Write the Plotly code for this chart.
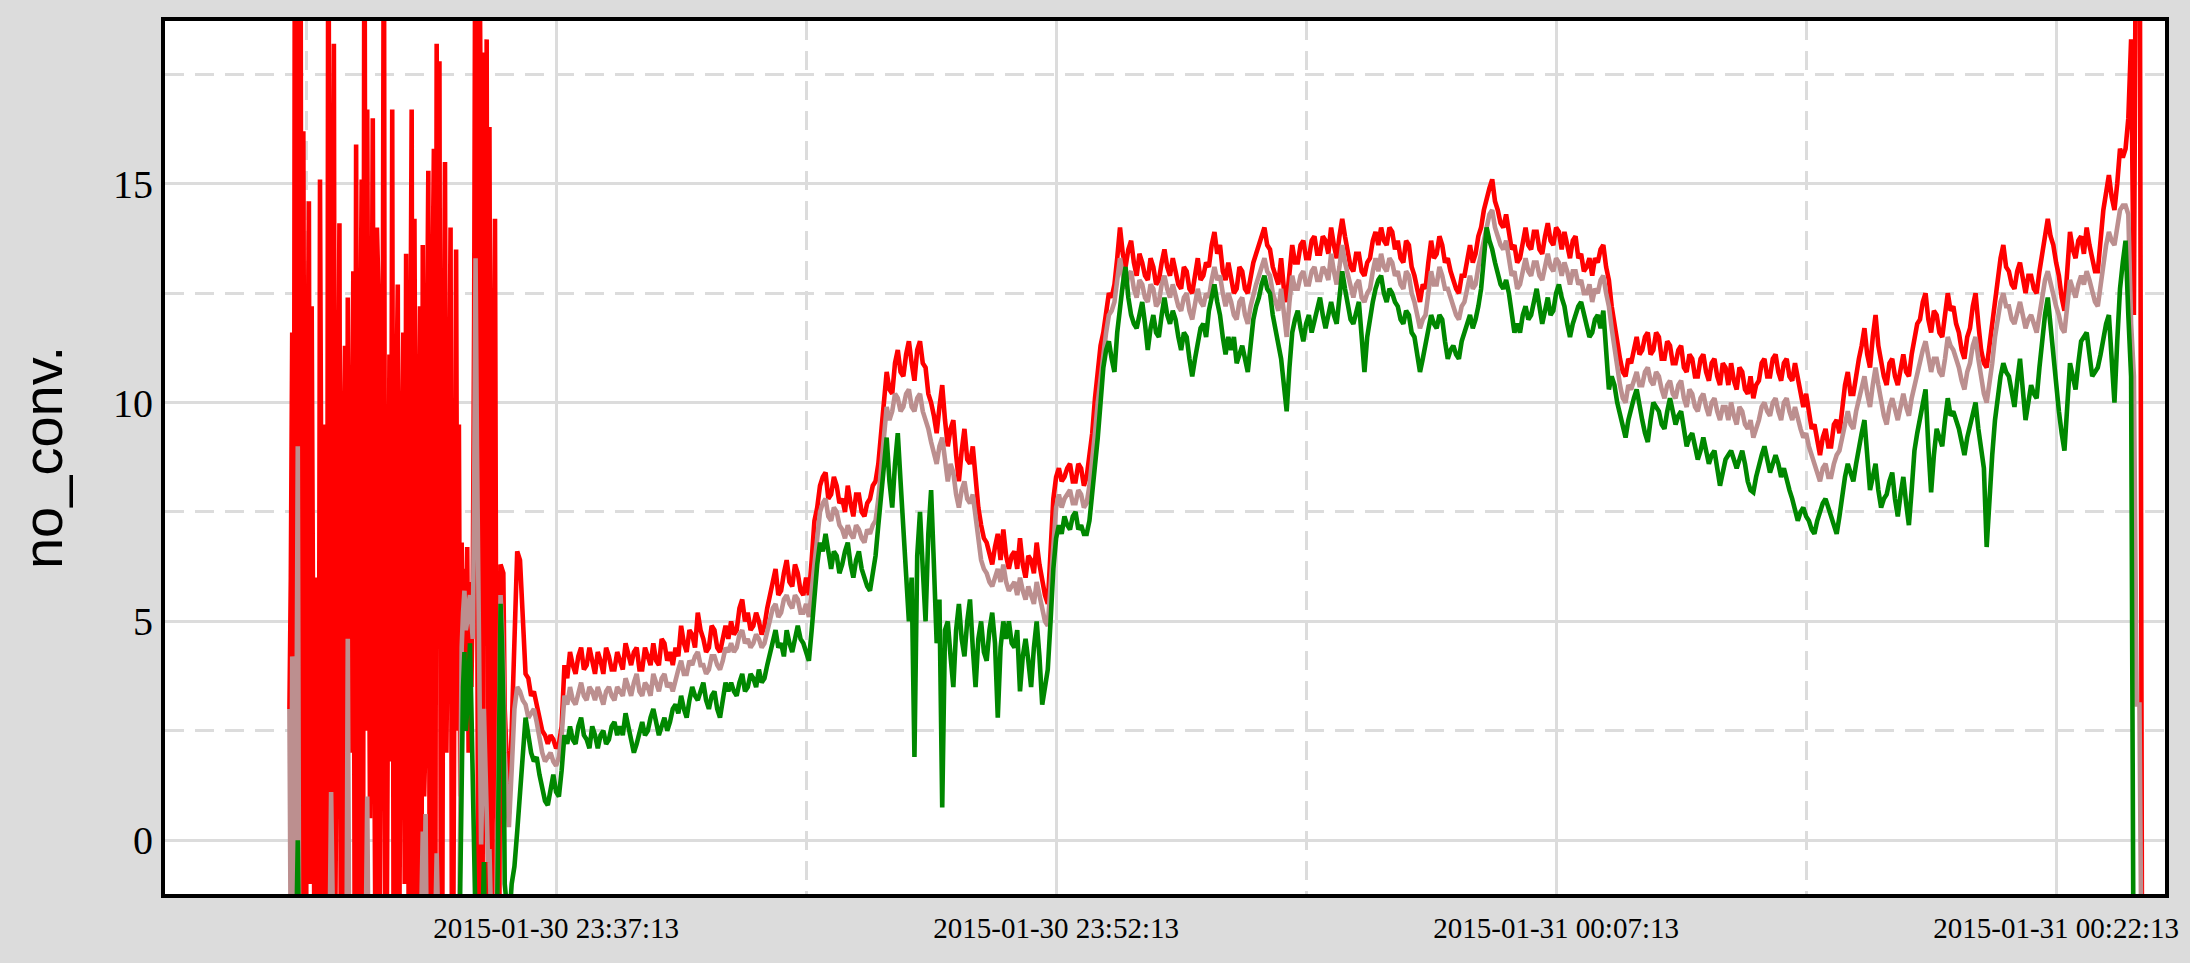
import pandas as pd
import plotly.graph_objects as go

# ---------------------------------------------------------------------------
# Sampling of the series: 2.5 s steps during the noisy start, 5 s afterwards
# ---------------------------------------------------------------------------
START_A = "2015-01-30 23:29:13"
STEP_A = "2500ms"
START_B = "2015-01-30 23:35:48"
STEP_B = "5s"

# upper series (red) - noisy start
red_start = [
    3.0, 6.0, 11.6, -2.0, 25.0, 8.0, -3.0, 19.0, 22.0, -3.0,
    16.2, 3.0, -2.6, 10.0, 14.6, -1.0, 12.2, 5.0, -2.8, 1.5,
    6.0, -3.0, 15.1, 7.0, -2.5, 2.1, 9.5, -3.0, 24.0, 8.5,
    -3.2, 12.0, 18.2, -2.0, 4.0, 11.0, 14.1, -3.0, -2.9, 9.0,
    11.3, -2.5, 12.4, 6.0, 2.0, 8.0, 13.0, -3.0, 15.9, 4.0,
    -3.0, 10.5, 15.1, -2.0, 24.0, 2.5, 16.7, 7.5, 0.5, 9.0,
    16.5, 3.0, -3.1, 14.0, 12.7, -2.0, 3.5, 8.0, 23.0, -3.0,
    -2.7, 6.5, 11.1, 1.8, 16.7, -3.0, -2.0, 10.0, 12.7, -2.8,
    5.0, 9.0, 11.6, -1.0, 13.4, 4.0, -3.0, 10.2, 16.7, -3.0,
    14.2, 6.0, -1.5, 8.5, 12.2, -3.0, 13.6, 1.0, 2.5, 11.0,
    15.3, -2.5, -3.0, 12.5, 15.8, -3.0, 18.2, 4.5, 17.8, -2.0,
    -3.0, 10.0, 15.5, 2.0, 4.5, 9.0, 14.0, -3.0, -2.0, 9.0,
    13.5, 2.5, 9.5, 1.0, 6.8, 3.0, 6.2, 4.5, 6.7, 2.0,
    5.9, 3.5, 5.7, 12.0, 24.0, 9.0, -3.0, 20.0, 15.0, -3.0,
    18.0, 5.0, 18.3, -2.0, 16.3, 4.0, -3.0, 10.0, 14.2, 2.0,
    -2.5, -3.0, 6.3, 6.2, 6.1, 3.0,
]
# middle series (rosy brown) - noisy start
mid_start = [
    3.0, -3.0, 4.2, -2.5, -3.0, 2.0, 9.0, -3.0, -3.4, -3.0,
    -2.8, -3.2, -3.1, -2.9, -3.5, -3.0, -2.9, -3.3, -3.3, -3.1,
    -3.0, -3.2, -3.6, -3.0, -2.7, -3.1, -3.2, -3.4, -3.0, -2.0,
    1.1, -3.0, -3.4, -3.1, -2.9, -3.0, -3.1, -3.2, -3.3, -3.0,
    -3.0, -3.3, 4.6, -2.6, -2.8, -3.1, -3.3, -3.0, -3.0, -3.2,
    -3.5, -3.0, -2.9, -3.3, -3.1, -2.0, 1.0, -3.0, -3.2, -3.1,
    -3.0, -3.2, -3.4, -3.0, -2.8, -3.1, -3.1, -3.3, -3.5, -3.0,
    -3.0, -3.2, -2.9, -3.1, -3.3, -3.0, -3.1, -3.2, -3.4, -3.0,
    -2.9, -3.1, -3.2, -3.0, -3.0, -3.3, -3.5, -3.1, -2.8, -3.0,
    -3.1, -3.2, -3.3, -3.0, -2.9, -1.5, 0.2, -2.0, 0.6, -3.0,
    -3.2, -3.1, -3.0, -3.2, -2.8, -2.0, -0.3, -3.0, -3.4, -3.1,
    -3.1, -3.0, -2.9, -3.2, -3.3, -3.0, -3.0, -3.1, -3.2, -2.0,
    -2.9, -3.0, -3.1, 1.0, 4.4, 5.2, 5.7, 4.8, 5.0, 5.4,
    5.6, 5.0, 4.6, 8.0, 13.3, 9.0, 6.0, 2.0, -0.1, 1.5,
    3.0, 1.8, 0.5, -0.5, -0.2, -3.0, -3.0, -3.1, -3.2, -2.0,
    0.1, 3.0, 5.6, 5.0, 4.0, 2.0,
]
# lower series (green) - noisy start
low_start = [
    -3.5, -3.4, -3.2, -3.6, -3.8, -2.0, 0.0, -3.0, -3.4, -3.5,
    -3.6, -3.3, -3.3, -3.4, -3.9, -3.6, -3.5, -3.3, -3.2, -3.5,
    -3.6, -3.4, -3.4, -3.7, -3.8, -3.5, -3.3, -3.6, -3.5, -3.4,
    -3.7, -3.3, -3.2, -3.5, -3.6, -3.4, -3.4, -3.7, -3.8, -3.5,
    -3.3, -3.6, -3.5, -3.4, -3.7, -3.3, -3.4, -3.5, -3.6, -3.4,
    -3.2, -3.7, -3.8, -3.5, -3.5, -3.3, -3.3, -3.6, -3.6, -3.4,
    -3.4, -3.5, -3.7, -3.3, -3.5, -3.6, -3.3, -3.4, -3.6, -3.5,
    -3.8, -3.3, -3.4, -3.6, -3.2, -3.4, -3.5, -3.7, -3.7, -3.5,
    -3.3, -3.4, -3.6, -3.5, -3.4, -3.6, -3.8, -3.3, -3.5, -3.4,
    -3.2, -3.6, -3.6, -3.5, -3.4, -3.3, -3.7, -3.5, -3.3, -3.6,
    -3.5, -3.4, -3.8, -3.5, -3.4, -3.3, -3.2, -3.6, -3.6, -3.4,
    -3.5, -3.7, -3.3, -3.5, -3.7, -3.4, -3.4, -3.6, -3.6, -3.3,
    -3.2, -3.5, -3.5, -1.0, 2.1, 3.5, 4.3, 2.5, 3.0, 4.0,
    4.5, 3.0, 1.2, -3.0, -3.4, -3.5, -3.6, -3.4, -3.3, -2.0,
    -0.5, -3.0, -3.5, -3.6, -3.7, -3.5, -3.4, -3.3, -3.6, -3.0,
    -0.5, 2.0, 5.4, 4.5, 3.0, -1.0,
]

# upper series (red) - main part
red_main = [
    0.6, 2.5, 4.8, 6.6, 6.4, 5.2, 3.8, 3.7, 3.3, 3.4, 3.1, 2.8, 2.5, 2.4, 2.2, 2.4, 2.3, 2.1, 2.2, 2.6,
    4.0, 3.7, 4.3, 4.0, 3.8, 4.2, 4.4, 3.9, 4.0, 4.4, 4.1, 3.8, 4.3, 4.1, 3.8, 4.4, 4.2, 3.9, 3.9, 4.3,
    4.1, 3.9, 4.5, 4.2, 4.0, 4.3, 4.4, 3.9, 3.9, 4.4, 4.2, 4.0, 4.5, 4.1, 4.0, 4.6, 4.5, 4.1, 4.3, 4.0,
    4.4, 4.2, 4.9, 4.5, 4.3, 4.8, 4.7, 4.4, 5.2, 4.8, 4.6, 4.3, 4.4, 4.9, 4.8, 4.4, 4.3, 4.6, 4.9, 4.6,
    5.0, 4.7, 4.8, 5.3, 5.5, 5.0, 5.2, 4.8, 4.9, 5.2, 5.0, 4.7, 4.9, 5.3, 5.6, 6.0, 6.2, 5.6, 5.7, 6.1,
    6.4, 5.9, 5.8, 6.3, 6.1, 5.7, 5.6, 6.0, 5.6, 6.4, 7.3, 7.6, 8.1, 8.3, 8.4, 7.8, 7.9, 8.3, 8.1, 7.7,
    7.8, 7.5, 8.1, 7.7, 7.4, 7.9, 7.9, 7.5, 7.4, 7.7, 7.8, 8.1, 8.2, 8.6, 9.4, 10.0, 10.7, 10.3, 10.2, 10.9,
    11.2, 10.7, 10.6, 11.1, 11.4, 10.9, 10.5, 11.2, 11.4, 10.9, 10.8, 10.2, 10.0, 9.7, 9.3, 9.9, 10.4, 9.6, 9.0, 9.4,
    9.6, 8.8, 8.2, 8.9, 9.4, 8.7, 8.6, 9.0, 8.3, 7.6, 7.2, 6.9, 6.8, 6.5, 6.3, 6.7, 7.0, 6.4, 7.1, 6.5,
    6.2, 6.5, 6.6, 6.2, 6.9, 6.3, 6.0, 6.5, 6.4, 6.1, 6.8, 6.3, 5.9, 5.6, 5.4, 6.6, 7.8, 8.3, 8.5, 8.2,
    8.3, 8.5, 8.6, 8.2, 8.2, 8.6, 8.5, 8.1, 8.3, 8.8, 9.3, 10.1, 10.8, 11.3, 11.6, 12.1, 12.5, 12.4, 12.7, 13.3,
    14.0, 13.4, 13.1, 13.5, 13.7, 13.2, 12.9, 13.4, 13.2, 12.9, 12.8, 13.3, 13.1, 12.7, 12.8, 13.2, 13.5, 13.1, 12.9, 13.3,
    13.0, 12.7, 12.6, 13.1, 13.0, 12.6, 12.5, 12.9, 13.3, 12.8, 12.9, 13.2, 13.1, 13.6, 13.9, 13.4, 13.6, 13.0, 12.8, 13.2,
    12.9, 12.5, 12.6, 13.1, 13.0, 12.6, 12.5, 12.9, 13.2, 13.4, 13.6, 13.8, 14.0, 13.6, 13.5, 13.1, 12.9, 12.7, 13.3, 12.6,
    12.3, 13.1, 13.6, 13.2, 13.2, 13.6, 13.7, 13.3, 13.3, 13.7, 13.8, 13.4, 13.4, 13.8, 13.7, 13.4, 14.0, 13.6, 13.3, 13.8,
    14.2, 13.8, 13.5, 13.1, 13.0, 13.4, 13.4, 13.0, 12.9, 13.2, 13.3, 13.7, 13.9, 13.6, 14.0, 13.7, 13.6, 14.0, 13.9, 13.5,
    13.7, 13.3, 13.2, 13.7, 13.6, 13.1, 12.9, 12.6, 12.3, 12.7, 12.6, 13.2, 13.7, 13.3, 13.4, 13.8, 13.6, 13.2, 13.3, 13.0,
    12.8, 12.6, 12.5, 12.9, 12.9, 13.3, 13.6, 13.2, 13.4, 13.8, 14.0, 14.4, 14.7, 14.9, 15.1, 14.6, 14.4, 14.1, 14.0, 14.3,
    13.9, 13.5, 13.6, 13.2, 13.3, 13.7, 14.0, 13.6, 13.5, 13.9, 13.9, 13.5, 13.4, 13.8, 14.1, 13.7, 13.6, 14.0, 13.9, 13.5,
    13.9, 13.6, 13.3, 13.7, 13.8, 13.3, 13.4, 13.0, 13.1, 13.3, 12.9, 13.3, 13.2, 13.5, 13.6, 13.1, 12.8, 12.2, 11.7, 11.4,
    11.0, 10.7, 10.6, 11.0, 10.9, 11.2, 11.5, 11.1, 11.2, 11.5, 11.6, 11.1, 11.2, 11.6, 11.5, 11.0, 11.0, 11.4, 11.3, 10.9,
    10.9, 11.2, 11.3, 10.8, 10.7, 11.1, 11.0, 10.6, 10.6, 11.0, 11.1, 10.7, 10.5, 10.9, 11.0, 10.6, 10.4, 10.9, 10.8, 10.4,
    10.9, 10.5, 10.3, 10.8, 10.7, 10.3, 10.2, 10.6, 10.1, 10.4, 10.5, 10.9, 11.0, 10.6, 10.6, 11.0, 11.1, 10.7, 10.5, 10.9,
    11.0, 10.6, 10.5, 10.9, 10.6, 10.2, 9.9, 10.2, 9.7, 9.4, 9.5, 9.1, 8.8, 9.2, 9.4, 9.0, 9.0, 9.5, 9.6, 9.3,
    9.9, 10.4, 10.7, 10.2, 10.2, 10.7, 11.0, 11.3, 11.7, 11.1, 10.8, 11.5, 12.0, 11.3, 10.9, 10.6, 10.4, 10.9, 11.0, 10.6,
    10.4, 10.8, 11.1, 10.7, 10.6, 11.1, 11.4, 11.8, 11.9, 12.3, 12.5, 11.9, 11.6, 12.1, 12.0, 11.6, 11.5, 12.0, 12.5, 12.1,
    12.2, 11.8, 11.6, 11.2, 11.0, 11.5, 11.7, 12.2, 12.5, 11.8, 11.2, 10.9, 10.8, 11.3, 11.8, 12.4, 13.0, 13.3, 13.6, 13.1,
    13.0, 12.7, 12.6, 13.0, 13.2, 12.8, 12.5, 12.9, 12.9, 12.6, 12.5, 13.0, 13.4, 13.8, 14.2, 13.8, 13.6, 13.2, 12.9, 12.4,
    12.1, 13.0, 13.9, 13.5, 13.3, 13.7, 13.8, 13.4, 14.0, 13.6, 13.3, 13.0, 13.0, 13.7, 14.4, 14.8, 15.2, 14.7, 14.4, 15.0,
    15.8, 15.6, 15.8, 16.5, 18.3, 12.0, 25.0, 25.0, -5.0,
]
# middle series (rosy brown) - main part
mid_main = [
    0.3, 1.6, 3.0, 3.5, 3.4, 3.2, 3.1, 2.8, 2.9, 3.0, 2.7, 2.3, 2.0, 1.8, 1.9, 2.0, 1.8, 1.7, 1.9, 2.4,
    3.3, 3.1, 3.5, 3.2, 3.1, 3.4, 3.6, 3.3, 3.2, 3.5, 3.4, 3.2, 3.5, 3.3, 3.1, 3.4, 3.5, 3.3, 3.2, 3.5,
    3.4, 3.3, 3.7, 3.5, 3.3, 3.6, 3.8, 3.4, 3.3, 3.6, 3.5, 3.3, 3.8, 3.6, 3.4, 3.7, 3.8, 3.5, 3.6, 3.4,
    3.7, 3.9, 4.1, 3.8, 3.8, 4.1, 4.0, 4.2, 4.3, 4.0, 4.0, 3.8, 3.9, 4.2, 4.2, 4.0, 3.9, 4.1, 4.4, 4.3,
    4.5, 4.3, 4.4, 4.7, 4.8, 4.5, 4.6, 4.4, 4.5, 4.7, 4.6, 4.4, 4.5, 4.8, 5.0, 5.3, 5.4, 5.1, 5.2, 5.5,
    5.6, 5.4, 5.3, 5.6, 5.5, 5.2, 5.2, 5.4, 5.1, 5.7, 6.5, 7.0, 7.5, 7.7, 7.8, 7.4, 7.3, 7.6, 7.5, 7.2,
    7.1, 6.9, 7.2, 7.0, 6.9, 7.2, 7.1, 6.9, 6.8, 7.1, 7.0, 7.2, 7.3, 7.8, 8.5, 9.3, 9.9, 9.6, 9.8, 10.2,
    10.1, 9.8, 9.9, 10.2, 10.3, 9.9, 9.8, 10.1, 10.2, 9.8, 9.6, 9.4, 9.1, 8.8, 8.6, 9.0, 9.2, 8.7, 8.2, 8.6,
    8.4, 7.9, 7.6, 8.0, 8.2, 7.8, 7.7, 7.9, 7.4, 6.9, 6.4, 6.2, 6.1, 5.9, 5.8, 6.0, 6.2, 5.9, 6.3, 5.9,
    5.7, 5.8, 5.9, 5.6, 6.0, 5.7, 5.5, 5.8, 5.6, 5.4, 5.9, 5.6, 5.2, 5.0, 4.9, 5.9, 7.0, 7.6, 7.9, 7.6,
    7.8, 7.9, 8.0, 7.7, 7.7, 8.0, 7.9, 7.6, 7.7, 8.1, 8.6, 9.3, 10.0, 10.6, 11.0, 11.6, 12.0, 12.1, 12.3, 12.8,
    13.3, 12.9, 12.6, 12.9, 13.0, 12.6, 12.4, 12.8, 12.7, 12.4, 12.3, 12.7, 12.6, 12.2, 12.3, 12.7, 12.9, 12.6, 12.4, 12.7,
    12.4, 12.2, 12.1, 12.4, 12.5, 12.1, 11.9, 12.3, 12.6, 12.3, 12.2, 12.5, 12.4, 12.8, 13.1, 12.8, 12.9, 12.5, 12.2, 12.5,
    12.3, 12.0, 11.9, 12.3, 12.4, 12.0, 11.8, 12.2, 12.5, 12.7, 12.9, 13.1, 13.3, 13.0, 12.9, 12.5, 12.3, 12.1, 12.6, 12.0,
    11.5, 12.3, 12.9, 12.6, 12.6, 12.9, 13.0, 12.7, 12.7, 13.0, 13.1, 12.8, 12.8, 13.1, 13.0, 12.8, 13.4, 13.0, 12.7, 13.1,
    13.6, 13.2, 12.9, 12.6, 12.4, 12.7, 12.8, 12.4, 12.3, 12.5, 12.6, 13.0, 13.3, 13.0, 13.4, 13.1, 13.0, 13.3, 13.2, 12.9,
    13.0, 12.7, 12.6, 13.0, 12.9, 12.5, 12.3, 12.0, 11.7, 11.9, 12.0, 12.5, 13.0, 12.7, 12.7, 13.1, 12.9, 12.6, 12.6, 12.4,
    12.2, 12.0, 11.9, 12.2, 12.3, 12.6, 12.9, 12.6, 12.7, 13.1, 13.4, 13.8, 14.1, 14.3, 14.4, 14.0, 13.8, 13.6, 13.5, 13.7,
    13.3, 12.9, 13.0, 12.6, 12.7, 13.0, 13.3, 13.0, 12.9, 13.2, 13.2, 12.9, 12.8, 13.1, 13.4, 13.1, 13.0, 13.3, 13.2, 12.9,
    13.2, 13.0, 12.7, 13.0, 13.0, 12.7, 12.8, 12.5, 12.5, 12.7, 12.3, 12.6, 12.5, 12.8, 12.9, 12.5, 12.2, 11.7, 11.2, 10.8,
    10.4, 10.1, 10.0, 10.4, 10.3, 10.5, 10.7, 10.4, 10.4, 10.7, 10.8, 10.5, 10.4, 10.7, 10.6, 10.3, 10.1, 10.4, 10.5, 10.2,
    10.1, 10.4, 10.5, 10.1, 9.9, 10.3, 10.2, 9.9, 9.8, 10.1, 10.2, 9.9, 9.7, 10.0, 10.1, 9.8, 9.6, 9.9, 9.9, 9.6,
    10.0, 9.7, 9.5, 9.9, 9.8, 9.5, 9.4, 9.6, 9.2, 9.4, 9.6, 9.9, 10.0, 9.8, 9.7, 10.0, 10.1, 9.8, 9.6, 10.0,
    10.1, 9.8, 9.6, 9.9, 9.6, 9.4, 9.2, 9.3, 9.0, 8.8, 8.6, 8.4, 8.2, 8.5, 8.6, 8.3, 8.3, 8.6, 8.8, 8.9,
    9.2, 9.6, 9.8, 9.5, 9.4, 9.8, 10.1, 10.4, 10.6, 10.2, 9.9, 10.4, 10.8, 10.4, 10.0, 9.7, 9.5, 9.9, 10.1, 9.8,
    9.6, 9.9, 10.2, 9.9, 9.7, 10.1, 10.4, 10.7, 10.9, 11.2, 11.4, 11.0, 10.7, 11.0, 11.0, 10.7, 10.6, 11.0, 11.5, 11.3,
    11.2, 11.0, 10.8, 10.5, 10.3, 10.7, 10.9, 11.3, 11.5, 11.0, 10.5, 10.2, 10.0, 10.4, 10.9, 11.5, 12.0, 12.3, 12.5, 12.2,
    12.2, 11.9, 11.8, 12.1, 12.3, 12.0, 11.7, 11.9, 12.0, 11.8, 11.6, 12.0, 12.4, 12.8, 13.0, 12.7, 12.5, 12.2, 12.0, 11.7,
    11.6, 12.2, 12.8, 12.6, 12.4, 12.7, 12.9, 12.7, 13.0, 12.8, 12.5, 12.3, 12.2, 12.7, 13.2, 13.6, 13.9, 13.7, 13.6, 14.1,
    14.4, 14.5, 14.5, 14.3, 11.8, 10.6, 3.1, 3.1, -5.0,
]
# lower series (green) - main part
low_main = [
    -2.0, -1.0, -0.6, 0.2, 1.0, 2.0, 2.8, 2.4, 2.0, 1.8, 1.9, 1.5, 1.2, 0.9, 0.8, 1.2, 1.5, 1.1, 1.0, 1.6,
    2.4, 2.2, 2.6, 2.3, 2.2, 2.6, 2.8, 2.4, 2.3, 2.1, 2.6, 2.4, 2.1, 2.4, 2.5, 2.2, 2.3, 2.6, 2.7, 2.4,
    2.6, 2.4, 2.9, 2.6, 2.3, 2.0, 2.2, 2.5, 2.7, 2.4, 2.5, 2.8, 3.0, 2.7, 2.4, 2.6, 2.8, 2.5, 2.7, 3.0,
    3.1, 2.9, 3.3, 3.0, 2.8, 3.2, 3.5, 3.3, 3.2, 3.4, 3.6, 3.2, 3.0, 3.3, 3.4, 3.0, 2.8, 3.2, 3.6, 3.4,
    3.6, 3.4, 3.3, 3.6, 3.8, 3.4, 3.5, 3.8, 3.7, 3.5, 3.9, 3.6, 3.7, 4.0, 4.3, 4.6, 4.8, 4.4, 4.5, 4.2,
    4.8, 4.5, 4.3, 4.6, 4.9, 4.6, 4.5, 4.3, 4.1, 4.8, 5.6, 6.3, 6.8, 6.6, 7.0, 6.5, 6.2, 6.6, 6.5, 6.1,
    6.3, 6.6, 6.8, 6.3, 6.0, 6.4, 6.6, 6.2, 6.0, 5.8, 5.7, 6.1, 6.5, 7.2, 7.8, 8.6, 9.2, 8.2, 7.6, 8.6,
    9.3, 8.2, 7.2, 6.4, 5.0, 6.0, 1.9, 6.5, 7.5, 6.2, 5.0, 7.0, 8.0, 6.3, 4.5, 5.5, 0.75, 4.8, 5.0, 4.2,
    3.5, 4.8, 5.4, 4.6, 4.2, 5.0, 5.5, 4.4, 3.5, 4.6, 5.0, 4.3, 4.1, 4.8, 5.2, 4.5, 2.8, 4.4, 5.0, 4.6,
    5.0, 4.5, 4.4, 4.8, 3.4, 4.2, 4.6, 4.1, 3.5, 4.4, 5.0, 4.2, 3.1, 3.5, 3.9, 5.0, 6.2, 6.9, 7.2, 7.0,
    7.4, 7.2, 7.1, 7.4, 7.5, 7.1, 7.2, 7.0, 7.0, 7.3, 7.9, 8.5, 9.2, 10.0, 10.8, 11.2, 11.4, 11.0, 10.7, 11.6,
    12.2, 12.7, 13.1, 12.4, 12.0, 11.8, 11.7, 12.0, 12.3, 11.8, 11.2, 11.7, 12.0, 11.6, 11.5, 12.0, 12.4, 12.0, 11.8, 12.1,
    11.9, 11.5, 11.2, 11.6, 11.5, 11.0, 10.6, 11.0, 11.4, 11.7, 11.8, 11.5, 12.1, 12.4, 12.7, 12.3, 12.0, 11.5, 11.1, 11.5,
    11.2, 11.5, 10.9, 11.1, 11.3, 11.0, 10.7, 11.3, 11.9, 12.2, 12.4, 12.7, 12.9, 12.6, 12.5, 12.0, 11.7, 11.4, 11.0, 10.4,
    9.8, 10.8, 11.6, 11.9, 12.1, 11.7, 11.4, 11.8, 12.0, 11.6, 11.9, 12.2, 12.4, 12.0, 11.7, 12.0, 12.3, 12.0, 11.8, 12.4,
    13.0, 12.6, 12.2, 11.9, 11.8, 12.1, 12.3, 11.5, 10.7, 11.5, 12.0, 12.3, 12.6, 12.8, 12.9, 12.5, 12.3, 12.6, 12.5, 12.3,
    12.2, 11.9, 11.8, 12.1, 12.0, 11.6, 11.5, 11.1, 10.7, 11.0, 11.3, 11.7, 12.0, 11.8, 11.7, 12.0, 11.9, 11.4, 11.0, 11.2,
    11.3, 11.1, 11.0, 11.4, 11.6, 11.8, 12.0, 11.7, 11.9, 12.2, 12.6, 13.3, 14.0, 13.7, 13.5, 13.2, 12.9, 12.7, 12.6, 12.8,
    12.5, 12.0, 11.6, 11.8, 11.6, 12.0, 12.2, 11.9, 12.0, 12.3, 12.6, 12.2, 11.8, 12.1, 12.4, 12.0, 12.1, 12.5, 12.7, 12.4,
    12.2, 11.8, 11.5, 11.8, 12.0, 12.2, 12.3, 12.0, 11.8, 11.5, 11.6, 11.9, 12.0, 11.7, 12.1, 11.2, 10.3, 10.6, 10.4, 10.0,
    9.7, 9.4, 9.2, 9.6, 9.9, 10.1, 10.3, 9.9, 9.6, 9.3, 9.1, 9.6, 10.0, 9.9, 9.8, 9.5, 9.4, 9.8, 10.1, 9.8,
    9.5, 9.7, 9.8, 9.4, 9.0, 9.2, 9.3, 9.0, 8.7, 8.9, 9.2, 8.9, 8.6, 8.8, 8.9, 8.5, 8.1, 8.4, 8.7, 8.8,
    8.9, 8.7, 8.5, 8.7, 8.9, 8.6, 8.2, 8.0, 7.95, 8.3, 8.6, 8.8, 9.0, 8.7, 8.4, 8.6, 8.8, 8.6, 8.3, 8.5,
    8.2, 8.0, 7.8, 7.5, 7.3, 7.5, 7.6, 7.4, 7.3, 7.1, 7.0, 7.3, 7.5, 7.7, 7.8, 7.6, 7.4, 7.2, 7.0, 7.4,
    7.9, 8.3, 8.6, 8.4, 8.2, 8.6, 9.0, 9.3, 9.6, 8.7, 8.0, 8.3, 8.6, 8.0, 7.6, 7.8, 7.9, 8.2, 8.4, 7.8,
    7.4, 7.9, 8.3, 7.7, 7.2, 8.0, 8.9, 9.3, 9.6, 10.0, 10.3, 9.0, 7.95, 8.8, 9.4, 9.2, 9.0, 9.6, 10.1, 9.7,
    9.8, 9.6, 9.4, 9.1, 8.8, 9.2, 9.5, 9.8, 10.0, 9.4, 8.9, 8.5, 6.7, 8.0, 8.8, 9.6, 10.2, 10.6, 10.9, 10.7,
    10.6, 10.3, 9.9, 10.5, 11.0, 10.3, 9.6, 10.0, 10.4, 10.2, 10.1, 10.8, 11.5, 12.0, 12.4, 11.7, 11.0, 10.4, 9.8, 9.3,
    8.9, 9.9, 10.9, 10.6, 10.3, 10.9, 11.4, 11.5, 11.6, 11.1, 10.6, 10.7, 10.8, 11.1, 11.5, 11.8, 12.0, 11.0, 10.0, 11.4,
    12.6, 13.2, 13.7, 12.0, 10.6, -5.0, -5.0, -5.0, -5.0,
]

# axis settings
X_RANGE = ["2015-01-30 23:25:29", "2015-01-31 00:25:29"]
X_TICK0 = "2015-01-30 23:37:13"
Y_RANGE = [-1.23, 18.72]
Y_TITLE = "no_conv."

assert len(red_start) == len(mid_start) == len(low_start) == 156, (len(red_start), len(mid_start), len(low_start))
assert len(red_main) == len(mid_main) == len(low_main) == 589, (len(red_main), len(mid_main), len(low_main))

t_start = pd.date_range(START_A, periods=len(red_start), freq=STEP_A)
t_main = pd.date_range(START_B, periods=len(red_main), freq=STEP_B)
times = list(t_start) + list(t_main)

series = [
    ("upper", red_start + red_main, "#FF0000"),
    ("median", mid_start + mid_main, "#BC8F8F"),
    ("lower", low_start + low_main, "#008800"),
]

fig = go.Figure()
for name, vals, col in series:
    fig.add_trace(go.Scatter(x=times, y=vals, mode="lines", name=name,
                             line=dict(color=col, width=4.6), hoverinfo="skip"))

grid = "#DCDCDC"
fig.update_layout(
    width=2190, height=963,
    margin=dict(l=165, r=25, t=21, b=69, pad=0),
    paper_bgcolor="#DCDCDC",
    plot_bgcolor="white",
    showlegend=False,
    xaxis=dict(
        type="date", range=X_RANGE,
        tick0=X_TICK0, dtick=900000,
        tickformat="%Y-%m-%d %H:%M:%S",
        tickfont=dict(family="Liberation Serif, Times New Roman, serif", size=29, color="black"),
        ticklabelstandoff=5,
        ticks="", showgrid=True, gridcolor=grid, gridwidth=3,
        minor=dict(tick0=X_TICK0, dtick=450000, showgrid=True, gridcolor=grid,
                   gridwidth=3, griddash="19px,11px"),
        showline=True, linecolor="black", linewidth=4, mirror=True,
        zeroline=False,
    ),
    yaxis=dict(
        range=Y_RANGE, tick0=0, dtick=5,
        tickfont=dict(family="Liberation Serif, Times New Roman, serif", size=40, color="black"),
        ticks="", showgrid=True, gridcolor=grid, gridwidth=3,
        minor=dict(tick0=0, dtick=2.5, showgrid=True, gridcolor=grid,
                   gridwidth=3, griddash="19px,11px"),
        showline=True, linecolor="black", linewidth=4, mirror=True,
        zeroline=False,
        title=dict(text=Y_TITLE, standoff=33,
                   font=dict(family="Liberation Sans, Arial, sans-serif", size=56, color="black")),
    ),
)

fig.write_html(
    "out.html",
    config={"displayModeBar": False},
    post_script="document.body.style.margin='0px';document.body.style.backgroundColor='#DCDCDC';",
)
